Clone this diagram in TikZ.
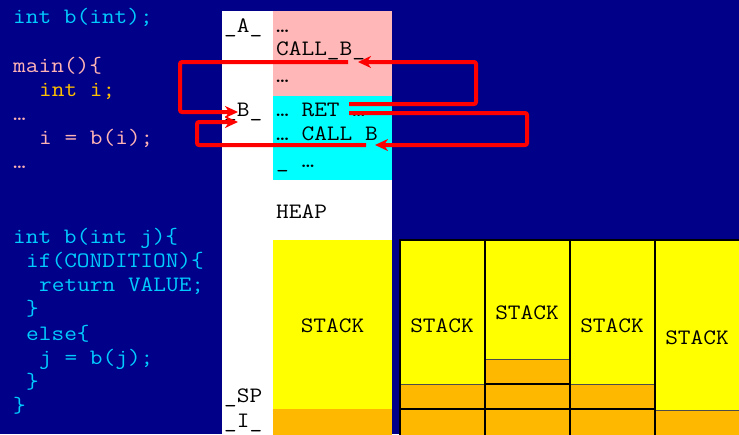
\documentclass[tikz,border=0pt]{standalone}
\usetikzlibrary{arrows.meta}
\definecolor{navy}{RGB}{0,0,136}
\definecolor{codeB}{RGB}{0,204,255}
\definecolor{codeM}{RGB}{255,180,180}
\definecolor{gold}{RGB}{255,192,0}
\definecolor{pinkfill}{RGB}{255,183,183}
\definecolor{cyanfill}{RGB}{0,255,255}
\definecolor{yel}{RGB}{255,255,0}
\definecolor{orng}{RGB}{255,184,0}
\newcommand{\tl}[1]{\scalebox{1.12}[1]{#1}}
\begin{document}
\begin{tikzpicture}[x=1pt,y=-1pt,
  code/.style={anchor=base west, inner sep=0pt, font=\ttfamily\fontsize{22}{26}\selectfont},
  mem/.style={code, text=black},
  stacklbl/.style={anchor=base, inner sep=0pt, font=\ttfamily\fontsize{22}{26}\selectfont, text=black},
  link/.style={draw=red, line width=4pt, rounded corners=2pt, -{Stealth[length=13pt,width=12pt,inset=4pt]}},
  cell/.style={draw=black, line width=1.4pt},
  thin/.style={draw=black!70, line width=0.8pt}]
\useasboundingbox (0,0) rectangle (739,434);
\clip (0,0) rectangle (739,434);
\fill[navy] (0,0) rectangle (739,434);

% memory column
\fill[white] (222,11) rectangle (392,440);
\fill[pinkfill] (273,11) rectangle (392,96);
\fill[cyanfill] (273,96) rectangle (392,180);
\fill[yel] (273,240) rectangle (392,409);
\fill[orng] (273,409) rectangle (392,440);

% right stacks
\fill[yel] (400,240) rectangle (740,440);
\fill[orng] (400,384) rectangle (485,440);
\fill[orng] (485,359) rectangle (570,440);
\fill[orng] (570,384) rectangle (655,440);
\fill[orng] (655,410) rectangle (745,440);
\draw[thin] (400,384) -- (485,384);
\draw[thin] (485,359) -- (570,359);
\draw[thin] (570,384) -- (655,384);
\draw[thin] (655,410) -- (745,410);
\draw[cell] (485,384) -- (570,384);
\draw[cell] (400,409) -- (655,409);
\draw[cell] (400,440) -- (400,240) -- (745,240);
\draw[cell] (485,240) -- (485,440);
\draw[cell] (570,240) -- (570,440);
\draw[cell] (655,240) -- (655,440);

% code
\node[code, text=codeB] (p1) at (13,23) {\tl{int b(int);}};
\node[code, text=codeM] (m1) at (13,72) {\tl{main()\{}};
\node[code, text=gold]  (m2) at (39,96) {\tl{int i;}};
\node[code, text=codeM] (m3) at (13,120) {\tl{…}};
\node[code, text=codeM] (m4) at (39,144) {\tl{i = b(i);}};
\node[code, text=codeM] (m5) at (13,168) {\tl{…}};
\node[code, text=codeB] (f1) at (13,243) {\tl{int b(int j)\{}};
\node[code, text=codeB] (f2) at (26,267) {\tl{if(CONDITION)\{}};
\node[code, text=codeB] (f3) at (39,291) {\tl{return VALUE;}};
\node[code, text=codeB] (f4) at (26,315) {\tl{\}}};
\node[code, text=codeB] (f5) at (26,340) {\tl{else\{}};
\node[code, text=codeB] (f6) at (39,364) {\tl{j = b(j);}};
\node[code, text=codeB] (f7) at (26,388) {\tl{\}}};
\node[code, text=codeB] (f8) at (13,412) {\tl{\}}};

% memory labels
\node[mem] (lA) at (224,32) {\tl{\_A\_}};
\node[mem] (a1) at (276,32) {\tl{…}};
\node[mem] (a2) at (276,55) {\tl{CALL\_B\_}};
\node[mem] (a3) at (276,82) {\tl{…}};
\node[mem] (lB) at (224,116) {\tl{\_B\_}};
\node[mem] (b1) at (276,116) {\tl{… RET …}};
\node[mem] (b2) at (276,140) {\tl{… CALL\_B}};
\node[mem] (b3) at (276,167) {\tl{\_ …}};
\node[mem] (heap) at (276,218) {\tl{HEAP}};
\node[stacklbl] (st0) at (332.5,332) {\tl{STACK}};
\node[mem] (lSP) at (224,402) {\tl{\_SP}};
\node[mem] (lI) at (224,427) {\tl{\_I\_}};

\node[stacklbl] (st1) at (442,332) {\tl{STACK}};
\node[stacklbl] (st2) at (527,319) {\tl{STACK}};
\node[stacklbl] (st3) at (612,332) {\tl{STACK}};
\node[stacklbl] (st4) at (697,344) {\tl{STACK}};

% control-flow arrows
\coordinate (s1) at (348,62);
\coordinate (e1) at (238,112);
\coordinate (s2) at (366,145);
\coordinate (e2) at (238,122);
\coordinate (r1) at (349,104);
\coordinate (e3) at (358,62);
\coordinate (r2) at (349,113);
\coordinate (e4) at (375,145);
\draw[link] (s1) -- (180,62) |- (e1);
\draw[link] (s2) -- (197,145) |- (e2);
\draw[link] (r1) -- (476,104) |- (e3);
\draw[link] (r2) -- (527,113) |- (e4);
\end{tikzpicture}
\end{document}
